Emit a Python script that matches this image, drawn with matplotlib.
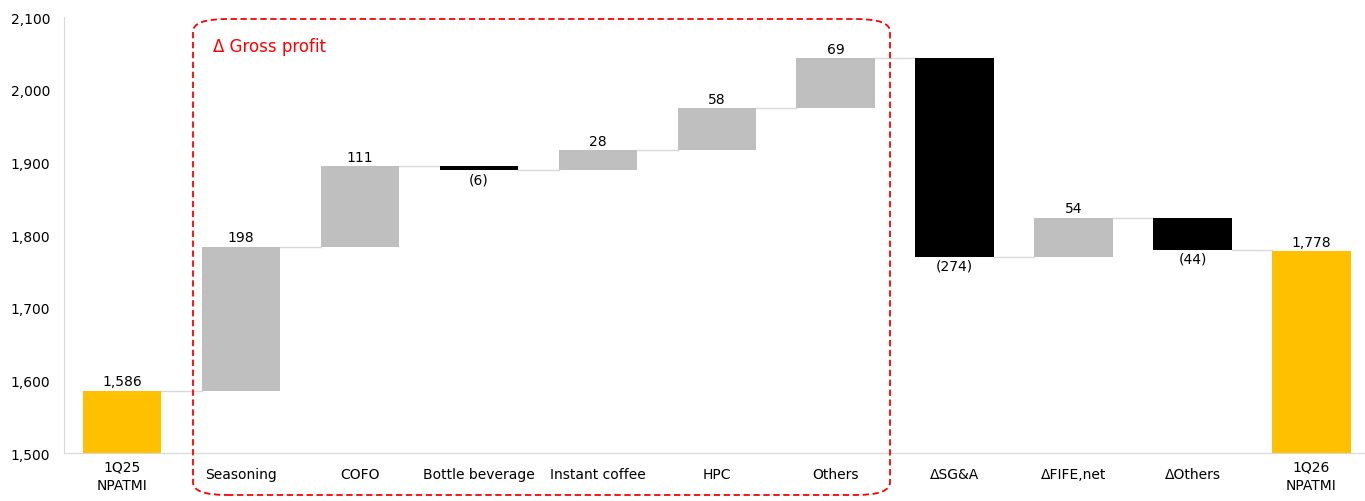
import matplotlib.pyplot as plt
from matplotlib.patches import FancyBboxPatch
from matplotlib.ticker import FuncFormatter

# waterfall data
categories = ["1Q25\nNPATMI", "Seasoning", "COFO", "Bottle beverage", "Instant coffee",
              "HPC", "Others", "\u0394SG&A", "\u0394FIFE,net", "\u0394Others", "1Q26\nNPATMI"]
start_total = 1586
deltas = [198, 111, -6, 28, 58, 69, -274, 54, -44]
end_total = 1778

GOLD = "#FFC000"
GREY = "#BFBFBF"
BLACK = "#000000"

fig = plt.figure(figsize=(13.65, 5.02), dpi=100)
ax = fig.add_axes([0.047, 0.0956, 0.953, 0.8685])

w = 0.66
x = list(range(len(categories)))

# first total
ax.bar(x[0], start_total - 1500, bottom=1500, width=w, color=GOLD, zorder=3)
ax.text(x[0], start_total + 3, f"{start_total:,}", ha="center", va="bottom", fontsize=10)

level = start_total
ends = [start_total]
for i, d in enumerate(deltas, start=1):
    lo, hi = min(level, level + d), max(level, level + d)
    col = GREY if d >= 0 else BLACK
    ax.bar(x[i], hi - lo, bottom=lo, width=w, color=col, zorder=3)
    if d >= 0:
        ax.text(x[i], hi + 3, f"{d:,}", ha="center", va="bottom", fontsize=10)
    else:
        ax.text(x[i], lo - 3, f"({abs(d):,})", ha="center", va="top", fontsize=10)
    level += d
    ends.append(level)

# last total
ax.bar(x[-1], end_total - 1500, bottom=1500, width=w, color=GOLD, zorder=3)
ax.text(x[-1], end_total + 3, f"{end_total:,}", ha="center", va="bottom", fontsize=10)
ends.append(end_total)

# connectors between bars
for i in range(len(categories) - 1):
    ax.plot([x[i] + w / 2, x[i + 1] - w / 2], [ends[i], ends[i]],
            color="#D9D9D9", lw=1, zorder=2)

ax.set_xlim(-0.487, 10.45)
ax.set_ylim(1500, 2100)
ax.set_yticks(range(1500, 2101, 100))
ax.yaxis.set_major_formatter(FuncFormatter(lambda v, p: f"{int(v):,}"))
ax.set_xticks(x)
ax.set_xticklabels([])
ax.tick_params(axis="both", length=0, labelsize=10)
ax.tick_params(axis="y", pad=10)

# category labels: two-line ones sit higher than single-line ones
for i, lab in enumerate(categories):
    if "\n" in lab:
        ax.annotate(lab, xy=(i, 0), xycoords=("data", "axes fraction"),
                    xytext=(0, -4.5), textcoords="offset points",
                    ha="center", va="top", fontsize=10, linespacing=1.45,
                    annotation_clip=False)
    else:
        ax.annotate(lab, xy=(i, 0), xycoords=("data", "axes fraction"),
                    xytext=(0, -15), textcoords="offset points",
                    ha="center", va="center", fontsize=10, annotation_clip=False)

for s in ["top", "right"]:
    ax.spines[s].set_visible(False)
for s in ["left", "bottom"]:
    ax.spines[s].set_color("#D9D9D9")

# dashed box around the gross profit items
box = FancyBboxPatch((193 / 1365, 1 - 496 / 502), (890 - 193) / 1365, (496 - 20) / 502,
                     boxstyle="round,pad=0,rounding_size=0.025",
                     transform=fig.transFigure, fill=False, edgecolor="#FF0000",
                     linestyle=(0, (3.5, 2)), lw=1.3, clip_on=False)
fig.patches.append(box)
fig.text(213 / 1365, 1 - 47 / 502, "\u0394 Gross profit", color="#FF0000", fontsize=12,
         ha="left", va="center")

fig.savefig("out.png", dpi=100)
